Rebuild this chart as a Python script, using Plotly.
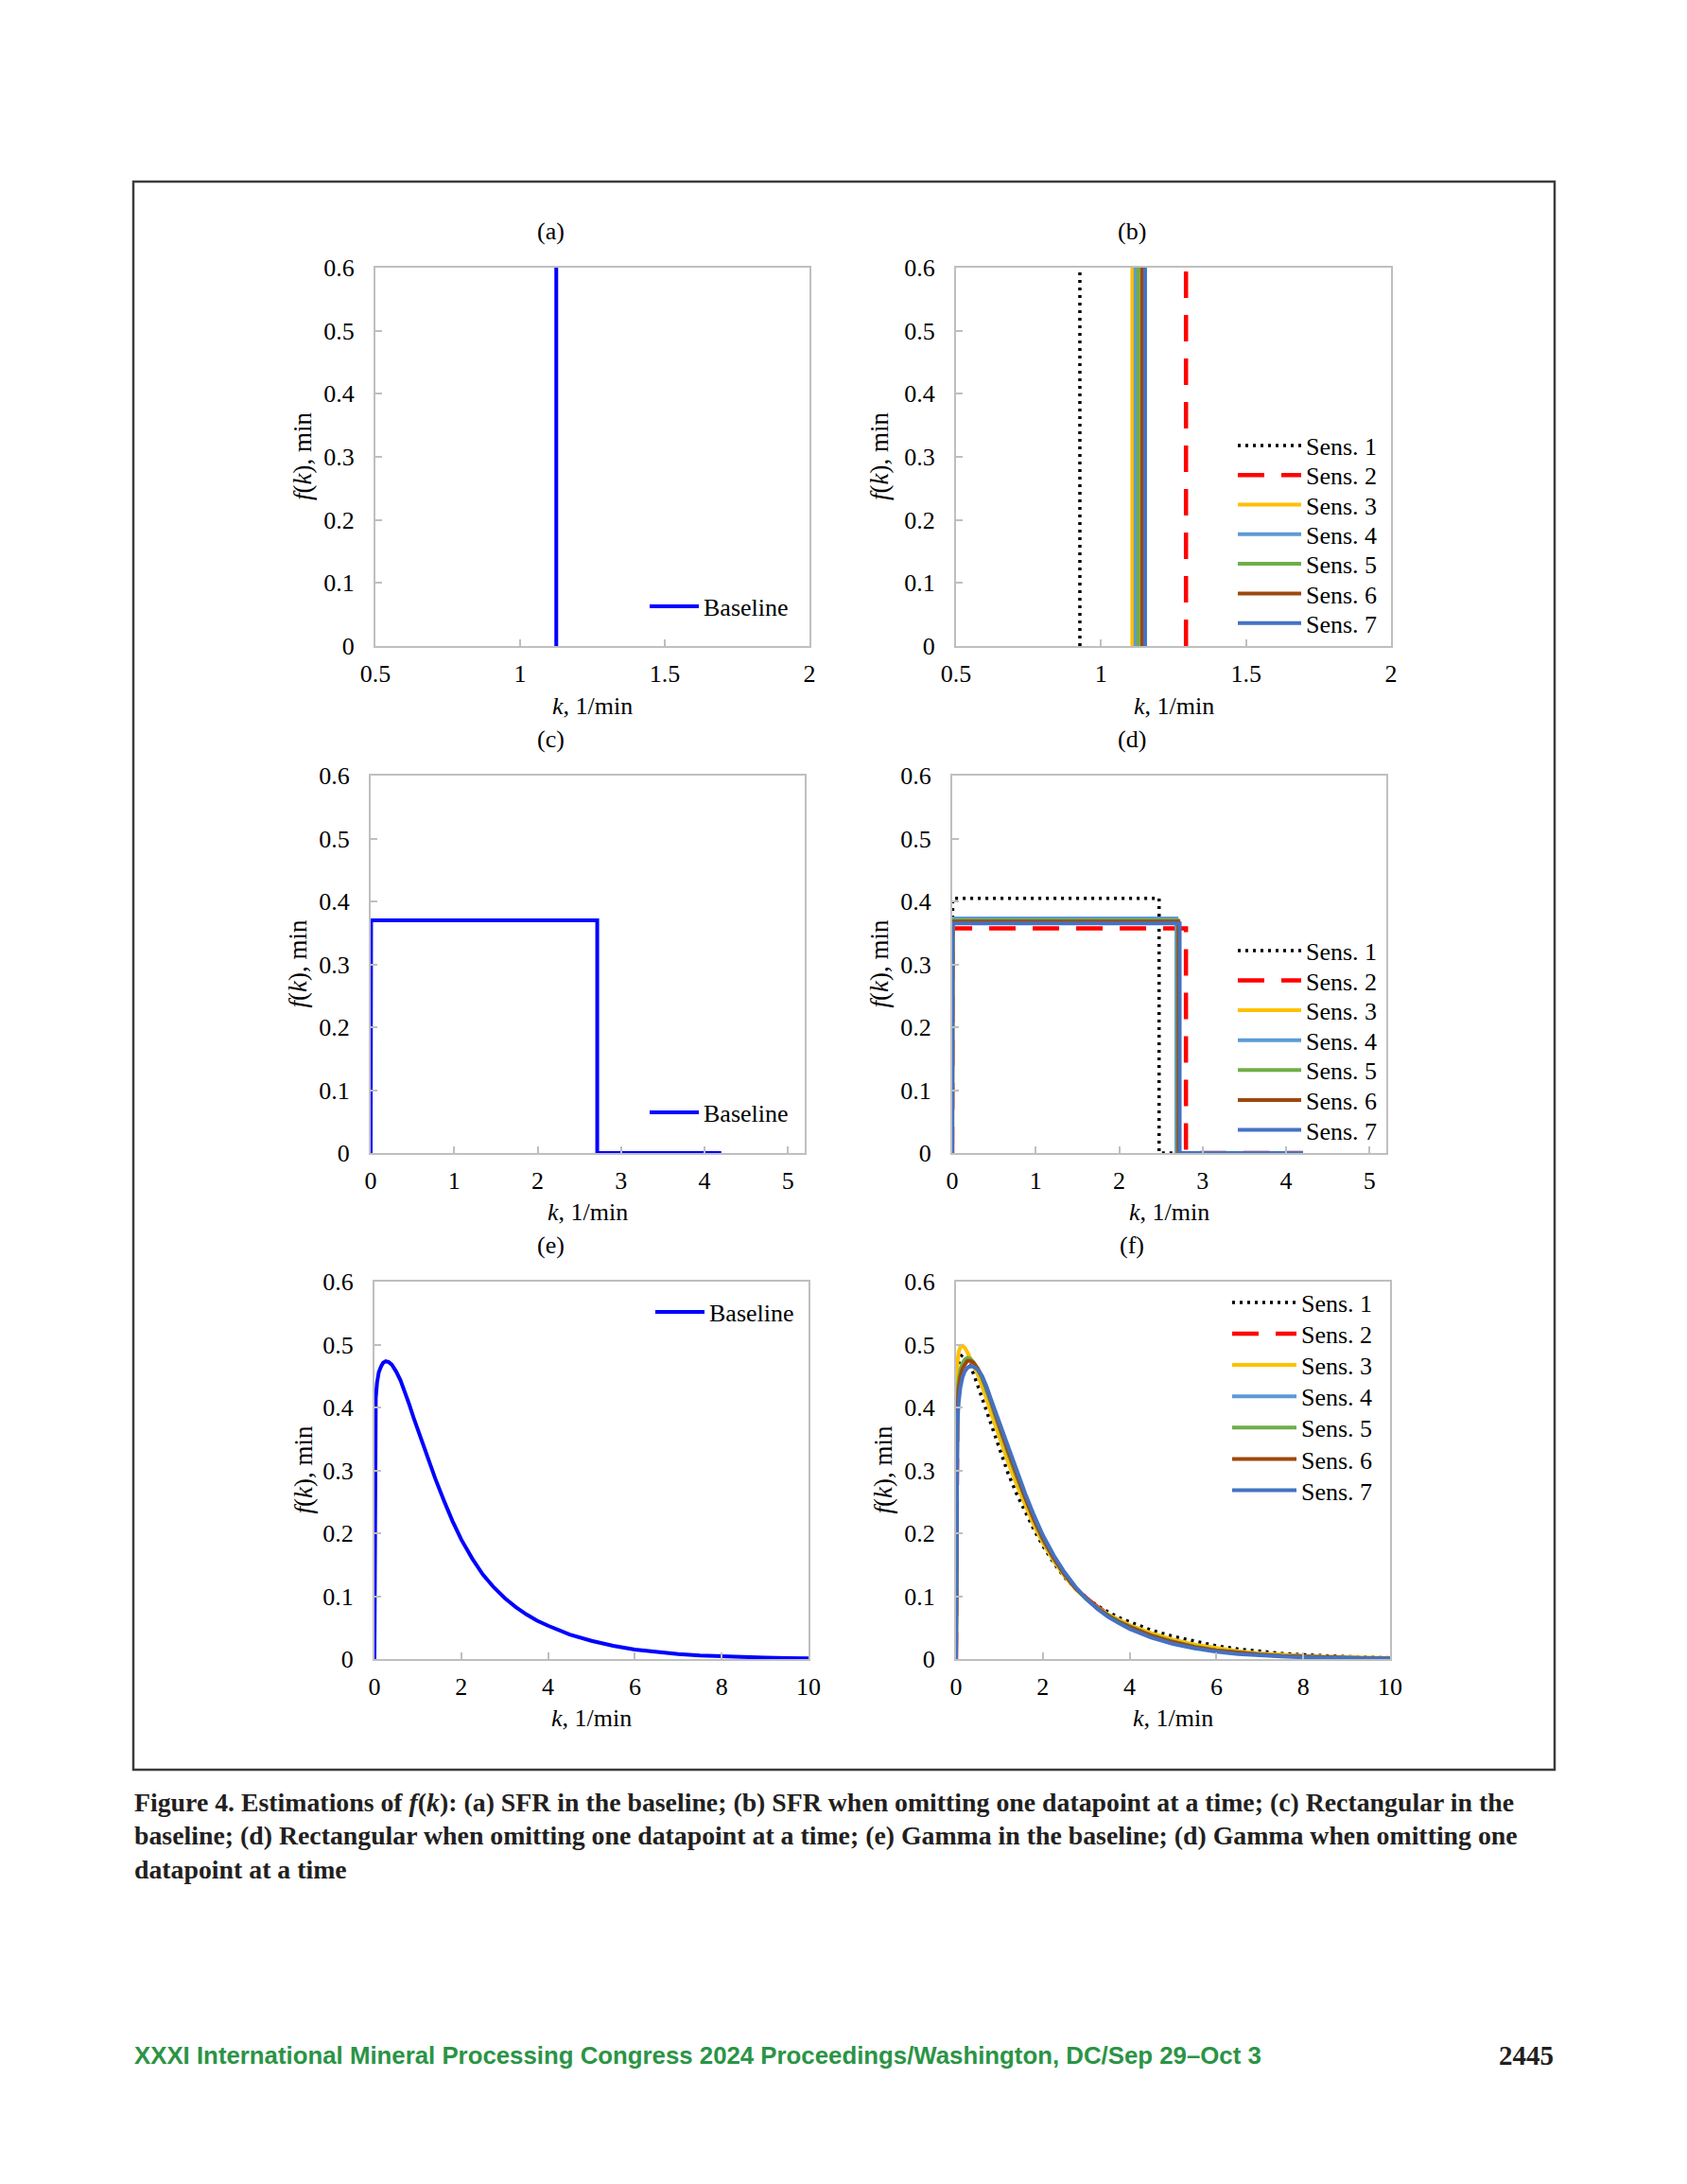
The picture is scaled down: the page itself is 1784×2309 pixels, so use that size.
import plotly.graph_objects as go

# ---------------- data ----------------
# (a) SFR baseline (single rate constant drawn as a vertical line)
sfr_base_k = [1.125, 1.125]
sfr_base_f = [0.0, 0.6]

# (b) SFR when omitting one datapoint at a time
sfr_sens_k = [0.927, 1.293, 1.108, 1.119, 1.128, 1.141, 1.152]
sfr_sens_f = [0.0, 0.6]

# (c) Rectangular baseline
rect_base_k = [0.0, 0.005, 2.714, 2.714, 4.2]
rect_base_f = [0.0, 0.370, 0.370, 0.0, 0.0]

# (d) Rectangular when omitting one datapoint (height, right edge)
rect_sens_h = [0.405, 0.357, 0.370, 0.373, 0.370, 0.368, 0.365]
rect_sens_kmax = [2.478, 2.800, 2.700, 2.686, 2.700, 2.710, 2.725]
rect_k_end = 4.2

# (e)/(f) Gamma: k grid
gam_k = [0, 0.01, 0.03, 0.06, 0.1, 0.15, 0.2, 0.26, 0.33, 0.4, 0.5, 0.6, 0.7, 0.8, 0.9,
         1.0, 1.2, 1.4, 1.6, 1.8, 2.0, 2.25, 2.5, 2.75, 3.0, 3.25, 3.5, 3.75, 4.0, 4.5,
         5.0, 5.5, 6.0, 6.5, 7.0, 7.5, 8.0, 8.5, 9.0, 9.5, 10.0]
gam_base = [0, 0.36, 0.415, 0.44, 0.456, 0.465, 0.471, 0.4735, 0.472, 0.468, 0.457, 0.443,
            0.425, 0.405, 0.384, 0.364, 0.325, 0.287, 0.252, 0.219, 0.190, 0.160, 0.134,
            0.114, 0.097, 0.083, 0.071, 0.061, 0.053, 0.039, 0.029, 0.021, 0.015, 0.011,
            0.008, 0.0058, 0.0042, 0.003, 0.0021, 0.0015, 0.001]
gam_s1 = [0, 0.40, 0.45, 0.47, 0.48, 0.484, 0.482, 0.476, 0.466, 0.454, 0.435, 0.415,
          0.394, 0.373, 0.352, 0.332, 0.295, 0.262, 0.232, 0.205, 0.180, 0.153, 0.130,
          0.112, 0.097, 0.085, 0.075, 0.066, 0.059, 0.046, 0.036, 0.028, 0.021, 0.016,
          0.012, 0.009, 0.0068, 0.005, 0.0038, 0.0028, 0.002]
gam_s2 = [0, 0.36, 0.414, 0.44, 0.456, 0.466, 0.472, 0.474, 0.473, 0.469, 0.458, 0.444,
          0.426, 0.406, 0.385, 0.365, 0.326, 0.288, 0.253, 0.220, 0.191, 0.161, 0.135,
          0.114, 0.097, 0.083, 0.071, 0.061, 0.052, 0.038, 0.028, 0.020, 0.014, 0.010,
          0.0075, 0.0054, 0.0039, 0.0028, 0.002, 0.0014, 0.001]
gam_s3 = [0, 0.42, 0.47, 0.488, 0.496, 0.498, 0.495, 0.488, 0.479, 0.468, 0.452, 0.434,
          0.414, 0.393, 0.372, 0.352, 0.313, 0.277, 0.243, 0.212, 0.185, 0.156, 0.132,
          0.112, 0.096, 0.082, 0.071, 0.062, 0.054, 0.041, 0.031, 0.023, 0.017, 0.0125,
          0.0092, 0.0068, 0.005, 0.0037, 0.0027, 0.002, 0.0015]
gam_s4 = [0, 0.35, 0.41, 0.438, 0.456, 0.467, 0.474, 0.477, 0.476, 0.472, 0.461, 0.447,
          0.429, 0.409, 0.388, 0.367, 0.328, 0.290, 0.254, 0.221, 0.191, 0.160, 0.134,
          0.113, 0.095, 0.081, 0.069, 0.059, 0.051, 0.037, 0.027, 0.019, 0.0135, 0.0097,
          0.007, 0.005, 0.0036, 0.0026, 0.0018, 0.0013, 0.0009]
gam_s5 = [0, 0.36, 0.415, 0.442, 0.46, 0.47, 0.476, 0.479, 0.477, 0.472, 0.461, 0.446,
          0.428, 0.408, 0.387, 0.366, 0.327, 0.289, 0.253, 0.220, 0.190, 0.160, 0.134,
          0.113, 0.096, 0.082, 0.070, 0.060, 0.052, 0.038, 0.028, 0.020, 0.014, 0.010,
          0.0073, 0.0053, 0.0038, 0.0027, 0.0019, 0.0014, 0.001]
gam_s6 = [0, 0.33, 0.395, 0.428, 0.449, 0.462, 0.469, 0.474, 0.474, 0.471, 0.462, 0.449,
          0.432, 0.413, 0.392, 0.371, 0.331, 0.292, 0.256, 0.222, 0.192, 0.161, 0.135,
          0.113, 0.096, 0.081, 0.069, 0.059, 0.051, 0.037, 0.027, 0.019, 0.0135, 0.0097,
          0.007, 0.005, 0.0036, 0.0026, 0.0018, 0.0013, 0.0009]
gam_s7 = [0, 0.30, 0.37, 0.407, 0.432, 0.448, 0.457, 0.463, 0.4655, 0.465, 0.46, 0.45,
          0.434, 0.414, 0.395, 0.375, 0.337, 0.299, 0.262, 0.228, 0.197, 0.165, 0.138,
          0.115, 0.096, 0.080, 0.067, 0.057, 0.048, 0.034, 0.024, 0.017, 0.0115, 0.008,
          0.0056, 0.004, 0.0028, 0.002, 0.0014, 0.001, 0.0007]
gam_sens = [gam_s1, gam_s2, gam_s3, gam_s4, gam_s5, gam_s6, gam_s7]

sens_names = ["Sens. 1", "Sens. 2", "Sens. 3", "Sens. 4", "Sens. 5", "Sens. 6", "Sens. 7"]
sens_colors = ["#000000", "#FF0000", "#FFC000", "#5B9BD5", "#70AD47", "#9E480E", "#4472C4"]
sens_dash = ["3px,5px", "28px,18px", "solid", "solid", "solid", "solid", "solid"]
sens_width = [3.5, 4.5, 4, 4, 4, 4, 4]
base_color = "#0000FF"
base_width = 4

panel_labels = ["(a)", "(b)", "(c)", "(d)", "(e)", "(f)"]
y_ticks = [0, 0.1, 0.2, 0.3, 0.4, 0.5, 0.6]
x_ranges = [[0.5, 2], [0.5, 2], [0, 5.2], [0, 5.2], [0, 10], [0, 10]]
x_dticks = [0.5, 0.5, 1, 1, 2, 2]

caption_lines = [
    "Figure 4. Estimations of <i>f</i>(<i>k</i>): (a) SFR in the baseline; (b) SFR when omitting one "
    "datapoint at a time; (c) Rectangular in the",
    "baseline; (d) Rectangular when omitting one datapoint at a time; (e) Gamma in the baseline; "
    "(d) Gamma when omitting one",
    "datapoint at a time",
]
footer_text = "XXXI International Mineral Processing Congress 2024 Proceedings/Washington, DC/Sep 29–Oct 3"
page_number = "2445"

# ---------------- page geometry (pixels of the 1784x2309 page) ----------------
PAGE_W, PAGE_H = 1784, 2309
BODY = 8                      # default body margin of the html page
W, H = PAGE_W - 2 * BODY, PAGE_H - 2 * BODY
SERIF = "Liberation Serif"
boxes = [(397, 856, 283, 683), (1011, 1471, 283, 683),
         (392, 851, 820, 1219), (1007, 1466, 820, 1219),
         (396, 855, 1355, 1754), (1011, 1470, 1355, 1754)]
title_pos = [(582, 245), (1197, 245), (582, 782), (1197, 782), (582, 1316), (1197, 1316)]
ytitle_x = [320, 930, 315, 930, 320, 933]
xtitle_y = [746, 746, 1281, 1281, 1816, 1816]
caption_y = [1905, 1940.5, 1976]

def px(x):
    return (x - BODY) / W

def py(y):
    return 1 - (y - BODY) / H

fig = go.Figure()
legend_defs = {}
legend_counter = [0]

def new_legend(x_line_start, y_center, itemwidth):
    legend_counter[0] += 1
    n = legend_counter[0]
    name = "legend" if n == 1 else f"legend{n}"
    legend_defs[name] = dict(
        x=px(x_line_start - 5), y=py(y_center), xanchor="left", yanchor="middle",
        xref="paper", yref="paper", bgcolor="rgba(0,0,0,0)", borderwidth=0,
        font=dict(family=SERIF, size=26, color="#000000"), itemwidth=itemwidth,
        tracegroupgap=0,
    )
    return name

def axref(i):
    return ("x" if i == 0 else f"x{i+1}", "y" if i == 0 else f"y{i+1}")

# (a)
xa, ya = axref(0)
fig.add_trace(go.Scatter(x=sfr_base_k, y=sfr_base_f, mode="lines", name="Baseline",
                         line=dict(color=base_color, width=base_width), xaxis=xa, yaxis=ya,
                         legend=new_legend(687, 641, 52)))
# (b)
xa, ya = axref(1)
for i in range(7):
    fig.add_trace(go.Scatter(x=[sfr_sens_k[i], sfr_sens_k[i]], y=sfr_sens_f, mode="lines",
                             name=sens_names[i],
                             line=dict(color=sens_colors[i], width=sens_width[i], dash=sens_dash[i]),
                             xaxis=xa, yaxis=ya,
                             legend=new_legend(1309, 471 + i * 31.3, 67)))
# (c)
xa, ya = axref(2)
fig.add_trace(go.Scatter(x=rect_base_k, y=rect_base_f, mode="lines", name="Baseline",
                         line=dict(color=base_color, width=base_width), xaxis=xa, yaxis=ya,
                         legend=new_legend(687, 1176, 52)))
# (d)
xa, ya = axref(3)
for i in range(7):
    kx = [0.0, 0.005, rect_sens_kmax[i], rect_sens_kmax[i], rect_k_end]
    fy = [0.0, rect_sens_h[i], rect_sens_h[i], 0.0, 0.0]
    fig.add_trace(go.Scatter(x=kx, y=fy, mode="lines", name=sens_names[i],
                             line=dict(color=sens_colors[i], width=sens_width[i], dash=sens_dash[i]),
                             xaxis=xa, yaxis=ya,
                             legend=new_legend(1309, 1005 + i * 31.6, 67)))
# (e)
xa, ya = axref(4)
fig.add_trace(go.Scatter(x=gam_k, y=gam_base, mode="lines", name="Baseline",
                         line=dict(color=base_color, width=base_width),
                         xaxis=xa, yaxis=ya,
                         legend=new_legend(693, 1387, 52)))
# (f)
xa, ya = axref(5)
for i in range(7):
    fig.add_trace(go.Scatter(x=gam_k, y=gam_sens[i], mode="lines", name=sens_names[i],
                             line=dict(color=sens_colors[i], width=sens_width[i], dash=sens_dash[i]),
                             xaxis=xa, yaxis=ya,
                             legend=new_legend(1303, 1377 + i * 33.1, 68)))

axis_common = dict(showline=True, mirror=True, linecolor="#BFBFBF", linewidth=2,
                   ticks="inside", ticklen=7, tickwidth=2, tickcolor="#BFBFBF",
                   showgrid=False, zeroline=False,
                   tickfont=dict(family=SERIF, size=26, color="#000000"))

layout = dict(width=W, height=H, margin=dict(l=0, r=0, t=0, b=0, autoexpand=False),
              paper_bgcolor="white", plot_bgcolor="white", showlegend=True)
annotations = []
for i, (l, r, t, b) in enumerate(boxes):
    sx = "xaxis" if i == 0 else f"xaxis{i+1}"
    sy = "yaxis" if i == 0 else f"yaxis{i+1}"
    xa, ya = axref(i)
    layout[sx] = dict(axis_common, domain=[px(l), px(r)], range=x_ranges[i],
                      tick0=x_ranges[i][0], dtick=x_dticks[i], anchor=ya,
                      ticklabelstandoff=5)
    layout[sy] = dict(axis_common, domain=[py(b), py(t)], range=[0, 0.6],
                      tickvals=y_ticks, ticktext=[f"{v:g}" for v in y_ticks], anchor=xa,
                      ticklabelstandoff=15)
    annotations.append(dict(text=panel_labels[i], x=px(title_pos[i][0]), y=py(title_pos[i][1]),
                            xref="paper", yref="paper", showarrow=False,
                            xanchor="center", yanchor="middle",
                            font=dict(family=SERIF, size=26, color="#000000")))
    annotations.append(dict(text="<i>f</i>(<i>k</i>), min", x=px(ytitle_x[i]), y=py((t + b) / 2),
                            xref="paper", yref="paper", showarrow=False, textangle=-90,
                            xanchor="center", yanchor="middle",
                            font=dict(family=SERIF, size=27, color="#000000")))
    annotations.append(dict(text="<i>k</i>, 1/min", x=px((l + r) / 2), y=py(xtitle_y[i]),
                            xref="paper", yref="paper", showarrow=False,
                            xanchor="center", yanchor="middle",
                            font=dict(family=SERIF, size=26, color="#000000")))

for line, yy in zip(caption_lines, caption_y):
    annotations.append(dict(text=f"<b>{line}</b>", x=px(140), y=py(yy), xref="paper", yref="paper",
                            showarrow=False, xanchor="left", yanchor="middle", align="left",
                            font=dict(family=SERIF, size=27.8, color="#231F20")))
annotations.append(dict(text=f"<b>{footer_text}</b>",
                        x=px(140), y=py(2173), xref="paper", yref="paper", showarrow=False,
                        xanchor="left", yanchor="middle",
                        font=dict(family="Liberation Sans", size=25.8, color="#2B9445")))
annotations.append(dict(text=f"<b>{page_number}</b>", x=px(1645), y=py(2173), xref="paper", yref="paper",
                        showarrow=False, xanchor="right", yanchor="middle",
                        font=dict(family=SERIF, size=29, color="#231F20")))
layout["annotations"] = annotations
layout["shapes"] = [dict(type="rect", xref="paper", yref="paper",
                         x0=px(141), x1=px(1644), y0=py(1871), y1=py(192),
                         line=dict(color="#3C3C3C", width=2.5), fillcolor="rgba(0,0,0,0)")]
layout.update(legend_defs)
fig.update_layout(**layout)

fig.write_html("out.html")
